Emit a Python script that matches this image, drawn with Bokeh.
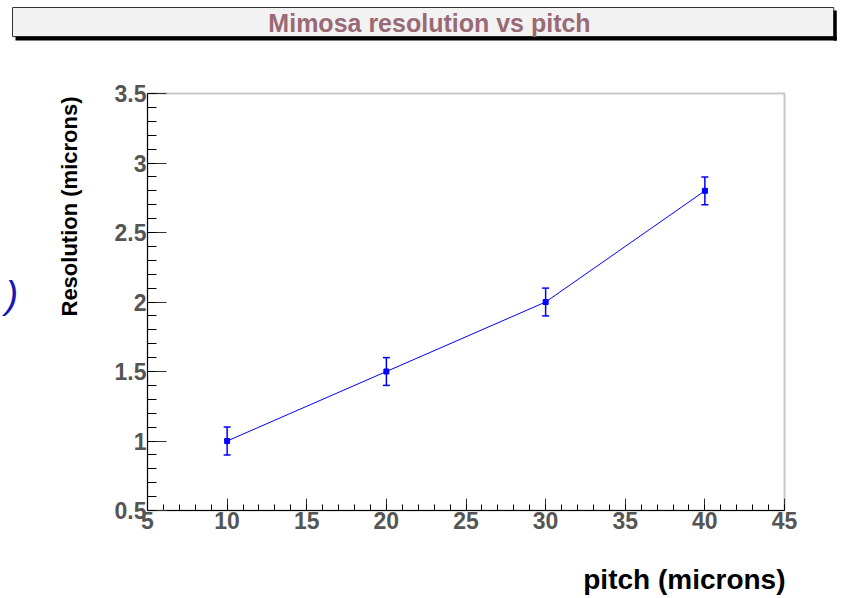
import math
from bokeh.plotting import figure
from bokeh.models import (ColumnDataSource, Whisker, TeeHead, FixedTicker, Label, Range1d)
from bokeh.embed import file_html
from bokeh.resources import INLINE

# ---- data ----
pitch = [10, 20, 30, 40]
resolution = [1.0, 1.5, 2.0, 2.8]
res_err = [0.1, 0.1, 0.1, 0.1]

x_ticks = [5, 10, 15, 20, 25, 30, 35, 40, 45]
x_minor = list(range(5, 46))
y_ticks = [0.5, 1.0, 1.5, 2.0, 2.5, 3.0, 3.5]
y_tick_labels = ["0.5", "1", "1.5", "2", "2.5", "3", "3.5"]
y_minor = [round(0.5 + 0.1 * i, 2) for i in range(31)]

title_text = "Mimosa resolution vs pitch"
x_title = "pitch (microns)"
y_title = "Resolution (microns)"

FONT = "Liberation Sans"

W, H = 843, 598
p = figure(width=W, height=H, output_backend="svg", toolbar_location=None,
           x_range=Range1d(5, 45), y_range=Range1d(0.5, 3.5),
           min_border_left=147, min_border_right=59,
           min_border_top=93, min_border_bottom=88)
p.background_fill_color = "white"
p.border_fill_color = "white"
p.outline_line_color = "#c8c8c8"
p.outline_line_width = 2
p.xgrid.visible = False
p.ygrid.visible = False

upper = [r + e for r, e in zip(resolution, res_err)]
lower = [r - e for r, e in zip(resolution, res_err)]
src = ColumnDataSource(dict(x=pitch, y=resolution, upper=upper, lower=lower))

p.line("x", "y", source=src, line_color="blue", line_width=1)
wh = Whisker(base="x", upper="upper", lower="lower", source=src,
             line_color="blue", line_width=1.5,
             upper_head=TeeHead(size=7, line_color="blue", line_width=1.5),
             lower_head=TeeHead(size=7, line_color="blue", line_width=1.5))
p.add_layout(wh)
p.scatter("x", "y", source=src, marker="square", size=5,
          fill_color="blue", line_color="blue")

# axes
for ax in (p.xaxis[0], p.yaxis[0]):
    ax.axis_line_color = "black"
    ax.axis_line_width = 1
    ax.major_tick_line_color = "#333333"
    ax.minor_tick_line_color = "black"
    ax.major_tick_out = 0
    ax.minor_tick_out = 0
    ax.major_label_text_font = FONT
    ax.major_label_text_font_style = "bold"
    ax.major_label_text_font_size = "23px"
    ax.major_label_text_color = "#555555"

p.xaxis.ticker = FixedTicker(ticks=x_ticks, minor_ticks=x_minor)
p.xaxis.major_tick_in = 12
p.xaxis.minor_tick_in = 6
p.xaxis.major_label_standoff = 1

p.yaxis.ticker = FixedTicker(ticks=y_ticks, minor_ticks=y_minor)
p.yaxis.major_label_overrides = {t: l for t, l in zip(y_ticks, y_tick_labels)}
p.yaxis.major_tick_in = 19
p.yaxis.minor_tick_in = 9
p.yaxis.major_label_standoff = 1

# title box (padded blank label, canvas pixels; padding = left, right, top, bottom)
box = Label(x=12, y=7, x_units="canvas", y_units="canvas", text=" ",
            text_align="left", text_baseline="top", text_font_size="1px",
            text_color="#f2f2f2",
            background_fill_color="#f2f2f2", background_fill_alpha=1,
            border_line_color="#333333", border_line_width=1,
            padding=(410, 411, 14, 14))
shadow_bottom = Label(x=15, y=36, x_units="canvas", y_units="canvas", text=" ",
                      text_align="left", text_baseline="top", text_font_size="1px",
                      text_color="black",
                      background_fill_color="black", background_fill_alpha=1,
                      padding=(410, 411, 1, 2))
shadow_right = Label(x=833, y=10, x_units="canvas", y_units="canvas", text=" ",
                     text_align="left", text_baseline="top", text_font_size="1px",
                     text_color="black",
                     background_fill_color="black", background_fill_alpha=1,
                     padding=(1, 2, 14, 15))
p.add_layout(box, "above")
p.add_layout(shadow_bottom, "above")
p.add_layout(shadow_right, "right")

p.add_layout(Label(x=429, y=22, x_units="canvas", y_units="canvas",
                   text=title_text, text_align="center", text_baseline="middle",
                   text_font=FONT, text_font_style="bold", text_font_size="25px",
                   text_color="#9a6a74"), "above")

p.add_layout(Label(x=785, y=579, x_units="canvas", y_units="canvas",
                   text=x_title, text_align="right", text_baseline="alphabetic",
                   text_font=FONT, text_font_style="bold", text_font_size="28px",
                   text_color="black"), "below")

p.add_layout(Label(x=69, y=206, x_units="canvas", y_units="canvas",
                   text=y_title, text_align="center", text_baseline="middle",
                   angle=math.pi / 2,
                   text_font=FONT, text_font_style="bold", text_font_size="22px",
                   text_color="black"), "left")

p.add_layout(Label(x=5, y=294, x_units="canvas", y_units="canvas",
                   text=")", text_align="left", text_baseline="middle",
                   text_font=FONT, text_font_style="italic", text_font_size="38px",
                   text_color="#1818b4"), "left")

open("out.html", "w").write(file_html(p, INLINE))
